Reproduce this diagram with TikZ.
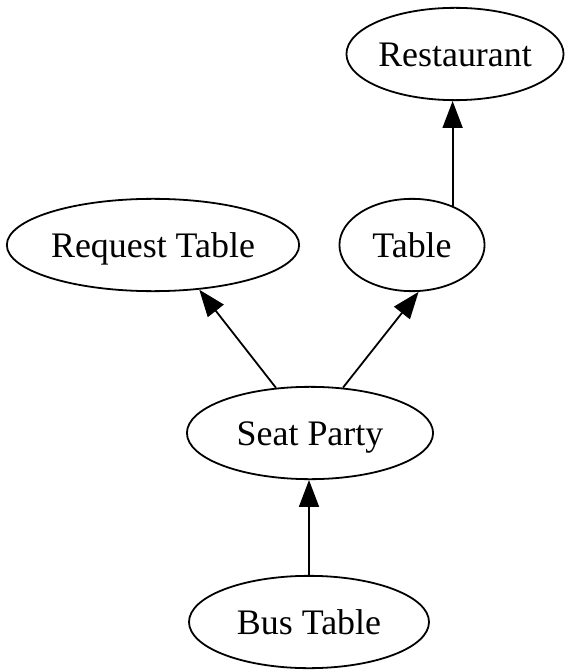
\documentclass[tikz,border=0pt]{standalone}
\usepackage{fontspec}
\setmainfont{Liberation Serif}
\usetikzlibrary{arrows.meta,shapes.geometric,positioning}

\tikzset{
  task/.style={draw, ellipse, line width=0.7pt, inner sep=0pt,
               minimum height=36pt, text height=11pt, text depth=1pt,
               font=\fontsize{14}{17}\selectfont},
  >={Triangle[length=10.5pt,width=7.8pt]}
}

\begin{document}
\begin{tikzpicture}[x=0.39pt, y=-0.39pt, line width=0.7pt]
  \useasboundingbox (0,0) rectangle (571,671);

  \node[task, minimum width=77pt] (rest) at (455,54) {Restaurant};
  \node[task, minimum width=114pt] (req) at (153,245) {Request Table};
  \node[task, minimum width=56.6pt] (tab) at (412,245) {Table};
  \node[task, minimum width=96pt] (seat) at (310,433) {Seat Party};
  \node[task, minimum width=93.6pt] (bus) at (309,622) {Bus Table};

  \draw[->] (tab.44) -- (tab.44 |- rest.south);
  \draw[->] (seat.127) -- (req.316);
  \draw[->] (seat.54) -- (tab.278);
  \draw[->] (bus.north) -- (bus.north |- seat.south);
\end{tikzpicture}
\end{document}
